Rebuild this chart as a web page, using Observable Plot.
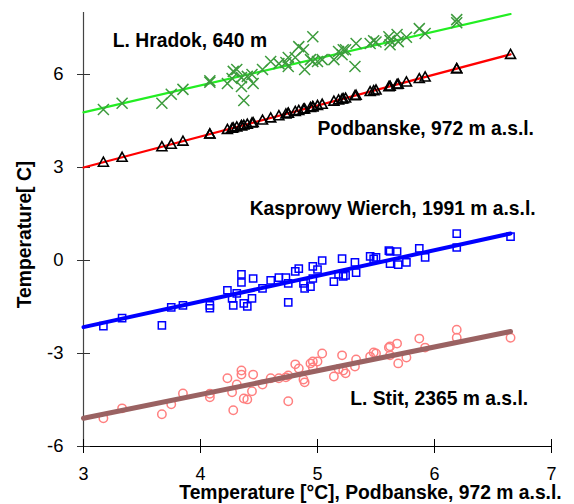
<!DOCTYPE html>
<html><head><meta charset="utf-8">
<script src="https://cdn.jsdelivr.net/npm/d3@7"></script>
<script src="https://cdn.jsdelivr.net/npm/@observablehq/plot@0.6"></script>
<style>body{margin:0;background:#fff}</style>
</head><body><div id="chart"></div>
<script>
// Podbanske temperature (x) – shared by all series
const podbanske = [3.17,3.33,3.67,3.75,3.85,4.08,4.08,4.23,4.27,4.28,4.31,4.35,4.35,4.37,4.40,4.44,4.45,4.53,4.60,4.67,4.73,4.75,4.75,4.81,4.84,4.88,4.89,4.94,4.96,4.96,5.00,5.04,5.14,5.18,5.21,5.22,5.24,5.32,5.33,5.45,5.48,5.50,5.61,5.62,5.62,5.68,5.69,5.76,5.87,5.92,6.19,6.19,6.65];
const hradok = [4.87,5.07,5.07,5.36,5.52,5.80,5.75,5.71,5.87,6.10,6.16,5.61,5.90,5.16,5.94,6.00,5.71,6.16,6.42,6.35,6.39,6.26,6.55,6.55,6.90,6.80,6.16,6.48,7.22,6.42,6.42,6.48,6.48,6.74,6.64,6.80,6.80,6.26,7.00,7.00,7.09,7.05,7.22,6.96,7.10,7.29,7.06,7.20,7.48,7.32,7.77,7.67,null];
const podbanskeY = podbanske.slice();
const kasprowy = [-2.12,-1.86,-2.09,-1.51,-1.45,-1.45,-1.54,-0.96,-1.22,-1.45,-1.06,-0.45,-0.71,-1.38,-1.48,-1.22,-0.58,-0.90,-0.64,-0.55,-0.55,-0.74,-1.35,-0.35,-0.26,-0.74,-0.90,-0.84,-0.19,-0.58,-0.29,0.00,-0.68,-0.45,0.06,-0.51,-0.48,-0.06,-0.39,0.13,0.05,0.10,0.32,0.29,-0.10,0.29,-0.13,-0.06,0.39,0.10,0.87,0.42,0.77];
const stit = [-5.09,-4.77,-4.96,-4.64,-4.29,-4.41,-4.30,-3.80,-4.25,-4.83,-4.00,-3.55,-3.68,-4.45,-4.48,-4.22,-3.68,-4.00,-3.80,-3.80,-3.77,-3.71,-4.54,-3.35,-3.48,-3.84,-3.93,-3.32,-3.26,-3.45,-3.26,-3.00,-3.74,-3.50,-3.06,-3.55,-3.64,-3.42,-3.19,-3.10,-2.97,-3.00,-2.81,-2.77,-3.06,-2.68,-3.32,-3.13,-2.52,-2.81,-2.23,-2.49,-2.49];

// fitted lines: values at the two ends
const fitX = [3, 6.65];
const fitHradok = [4.78, 7.95];
const fitPodbanske = [3.0, 6.65];
const fitKasprowy = [-2.15, 0.87];
const fitStit = [-5.09, -2.29];

const xTicks = [3, 4, 5, 6, 7];
const yTicks = [-6, -3, 0, 3, 6];

const stationLabels = ["L. Hradok, 640 m", "Podbanske, 972 m a.s.l.", "Kasprowy Wierch, 1991 m a.s.l.", "L. Stit, 2365 m a.s.l."];
const labelX = [3.25, 5.0, 4.42, 5.28];
const labelY = [7.1, 4.26, 1.68, -4.45];

const xLabel = "Temperature [°C], Podbanske, 972 m a.s.l.";
const yLabel = "Temperature[ C]";

// custom marker shapes
const crossSym = {draw(c, s){const r=Math.sqrt(s/Math.PI); c.moveTo(-r,-r); c.lineTo(r,r); c.moveTo(-r,r); c.lineTo(r,-r);}};
const triSym = {draw(c, s){const r=Math.sqrt(s/Math.PI); c.moveTo(0,-r); c.lineTo(r,0.8*r); c.lineTo(-r,0.8*r); c.closePath();}};
const sqSym = {draw(c, s){const r=Math.sqrt(s/Math.PI); c.rect(-r,-r,2*r,2*r);}};

const pts = (ys) => podbanske.map((x,i)=>({x, y: ys[i]})).filter(d => d.y != null);
const fit = (ys) => fitX.map((x,i)=>({x, y: ys[i]}));

const font = "'Liberation Sans', Arial, Helvetica, sans-serif";

const chart = Plot.plot({
  width: 574, height: 504,
  marginLeft: 83, marginRight: 23, marginTop: 12, marginBottom: 58,
  style: {fontFamily: font, background: "#fff", color: "#000"},
  x: {domain: [3, 7]},
  y: {domain: [-6, 8]},
  marks: [
    Plot.axisX({ticks: xTicks, tickSize: 0, tickPadding: 21, fontSize: 18, label: null, tickFormat: d => String(d)}),
    Plot.axisY({ticks: yTicks, tickSize: 0, tickPadding: 20, fontSize: 18.5, label: null, tickFormat: d => String(d)}),
    // axis lines and crossing ticks
    Plot.ruleX([3], {y1: -6, y2: 8, stroke: "#444", strokeWidth: 1.2}),
    Plot.ruleY([-6], {x1: 3, x2: 7, stroke: "#000"}),
    Plot.ruleY(yTicks, {x1: 3, x2: 3, insetLeft: -6, insetRight: -7, stroke: "#333"}),
    Plot.ruleX(xTicks, {y1: -6, y2: -6, insetTop: -7, insetBottom: -7, stroke: "#000"}),
    // L. Hradok
    Plot.line(fit(fitHradok), {x: "x", y: "y", stroke: "#22ee22", strokeWidth: 2.2}),
    Plot.dot(pts(hradok), {x: "x", y: "y", symbol: crossSym, r: 5.5, stroke: "#3d9b3d", strokeWidth: 1.5, fill: "none"}),
    // Podbanske
    Plot.line(fit(fitPodbanske), {x: "x", y: "y", stroke: "#ff0000", strokeWidth: 2.2}),
    Plot.dot(pts(podbanskeY), {x: "x", y: "y", symbol: triSym, r: 5, stroke: "#000", strokeWidth: 1.6, fill: "none"}),
    // Kasprowy Wierch
    Plot.dot(pts(kasprowy), {x: "x", y: "y", symbol: sqSym, r: 3.6, stroke: "#0000ff", strokeWidth: 1.5, fill: "none"}),
    Plot.line(fit(fitKasprowy), {x: "x", y: "y", stroke: "#0000ff", strokeWidth: 4}),
    // L. Stit
    Plot.dot(pts(stit), {x: "x", y: "y", r: 4.2, stroke: "#ff8080", strokeWidth: 1.5, fill: "none"}),
    Plot.line(fit(fitStit), {x: "x", y: "y", stroke: "#9a6262", strokeWidth: 5}),
    // station labels
    Plot.text(stationLabels, {x: (d,i) => labelX[i], y: (d,i) => labelY[i], text: d => d, textAnchor: "start", fontSize: 19.3, fontWeight: "bold", fill: "#000"}),
    // axis titles
    Plot.text([xLabel], {frameAnchor: "bottom", textAnchor: "middle", lineAnchor: "middle", dx: 53, dy: 46, fontSize: 19.3, fontWeight: "bold", fill: "#000"}),
    Plot.text([yLabel], {frameAnchor: "left", textAnchor: "middle", lineAnchor: "middle", rotate: -90, dx: -59, dy: 5, fontSize: 19.3, fontWeight: "bold", fill: "#000"})
  ]
});
document.getElementById("chart").appendChild(chart);
</script>
</body></html>
